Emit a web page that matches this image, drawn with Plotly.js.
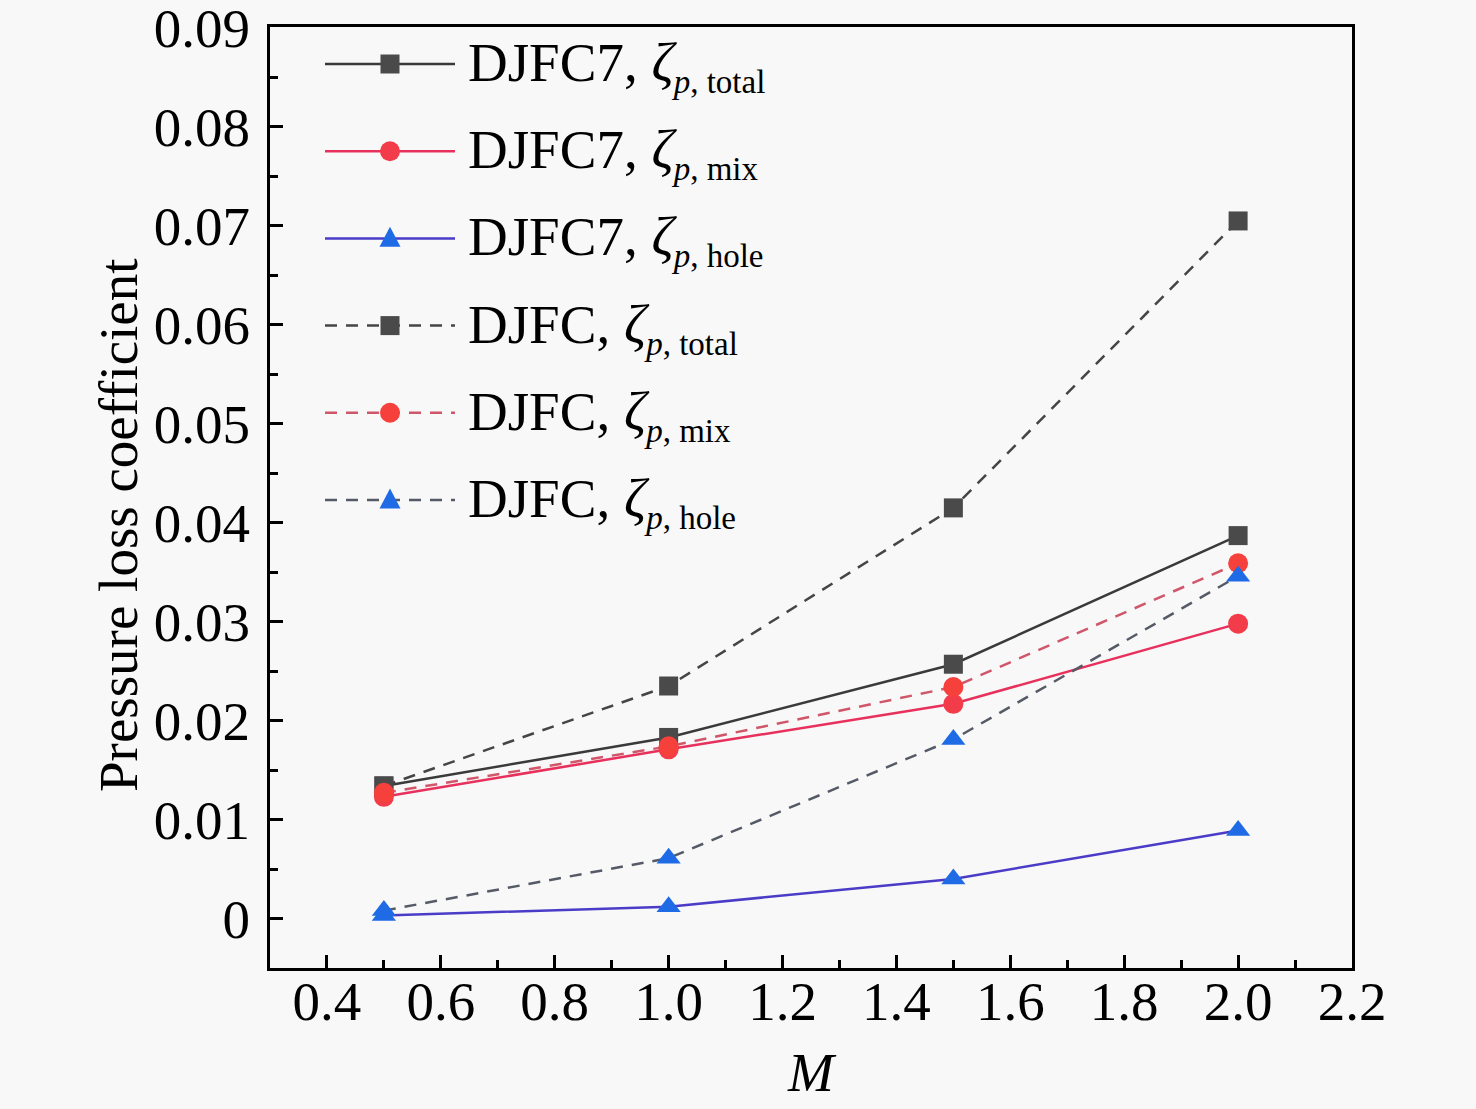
<!DOCTYPE html>
<html>
<head>
<meta charset="utf-8">
<script src="https://cdn.plot.ly/plotly-3.0.1.min.js"></script>
<style>
  html, body { margin: 0; padding: 0; background: #f8f8f8; }
  #plot { width: 1476px; height: 1109px; }
</style>
</head>
<body>
<div id="plot"></div>
<script>
const M = [0.5, 1.0, 1.5, 2.0];

// DJFC7 (solid)
const djfc7Total = [0.0134, 0.0183, 0.0257, 0.0387];
const djfc7Mix = [0.0123, 0.0171, 0.0217, 0.0298];
const djfc7Hole = [0.0003, 0.0012, 0.0040, 0.0089];

// DJFC (dashed)
const djfcTotal = [0.0134, 0.0235, 0.0415, 0.0705];
const djfcMix = [0.0127, 0.0174, 0.0234, 0.0359];
const djfcHole = [0.0008, 0.0061, 0.0181, 0.0346];

const yTicks = [0, 0.01, 0.02, 0.03, 0.04, 0.05, 0.06, 0.07, 0.08, 0.09];
const yTickText = ["0", "0.01", "0.02", "0.03", "0.04", "0.05", "0.06", "0.07", "0.08", "0.09"];

const serif = "Liberation Serif, Times New Roman, serif";
const dashes = "12px,9px";

// plot box in pixels, used to place the hand-made legend
const W = 1476, H = 1109;
const box = { l: 270, r: 124, t: 27, b: 141 };
const px = (v) => (v - box.l) / (W - box.l - box.r);
const py = (v) => 1 - (v - box.t) / (H - box.t - box.b);

function label(name, sub) {
	return `${name}, <i>ζ</i><sub><span style="font-size:33px"><i>p</i>, ${sub}</span></sub>`;
}

const series = [
	{ y: djfc7Total, name: label("DJFC7", "total"), line: "#3a3a3a", dash: "solid", symbol: "square", mc: "#4a4a4a", size: 19 },
	{ y: djfc7Mix, name: label("DJFC7", "mix"), line: "#e8305c", dash: "solid", symbol: "circle", mc: "#f23c4a", size: 20 },
	{ y: djfc7Hole, name: label("DJFC7", "hole"), line: "#4b3cc8", dash: "solid", symbol: "triangle-up", mc: "#1f6be6", size: 21 },
	{ y: djfcTotal, name: label("DJFC", "total"), line: "#454545", dash: dashes, symbol: "square", mc: "#4a4a4a", size: 19 },
	{ y: djfcMix, name: label("DJFC", "mix"), line: "#d0566a", dash: dashes, symbol: "circle", mc: "#f5403c", size: 20 },
	{ y: djfcHole, name: label("DJFC", "hole"), line: "#555a66", dash: dashes, symbol: "triangle-up", mc: "#1f6be6", size: 21 },
];

const plotData = series.map((s) => ({
	x: M,
	y: s.y,
	type: "scatter",
	mode: "lines+markers",
	name: s.name,
	showlegend: false,
	line: { color: s.line, width: 2.5, dash: s.dash },
	marker: { symbol: s.symbol, color: s.mc, size: s.size },
}));

// legend: long sample line, marker in the middle, text to the right
const shapes = [];
const annotations = [];
series.forEach((s, i) => {
	const yc = 64 + i * 87.2;
	shapes.push({
		type: "line", xref: "paper", yref: "paper",
		x0: px(325), x1: px(455), y0: py(yc), y1: py(yc),
		line: { color: s.line, width: 2.5, dash: s.dash },
	});
	const r = s.size / 2;
	if (s.symbol === "triangle-up") {
		shapes.push({
			type: "path", xref: "paper", yref: "paper",
			path: `M${px(390 - r)},${py(yc + r * 0.8)} L${px(390 + r)},${py(yc + r * 0.8)} L${px(390)},${py(yc - r * 1.1)} Z`,
			fillcolor: s.mc, line: { width: 0 },
		});
	} else {
		shapes.push({
			type: s.symbol === "square" ? "rect" : "circle", xref: "paper", yref: "paper",
			x0: px(390 - r), x1: px(390 + r), y0: py(yc + r), y1: py(yc - r),
			fillcolor: s.mc, line: { width: 0 },
		});
	}
	annotations.push({
		xref: "paper", yref: "paper",
		x: px(466), y: py(yc + 2),
		xanchor: "left", yanchor: "middle",
		text: s.name, showarrow: false,
		font: { family: serif, size: 55, color: "#000" },
	});
});

annotations.push({
	xref: "paper", yref: "paper",
	x: px(118), y: py(525),
	xanchor: "center", yanchor: "middle",
	textangle: -90,
	text: "Pressure loss coefficient", showarrow: false,
	font: { family: serif, size: 55, color: "#000" },
});

const axisCommon = {
	showline: true,
	linecolor: "#000",
	linewidth: 3,
	mirror: true,
	ticks: "inside",
	ticklen: 13,
	tickwidth: 3,
	tickcolor: "#000",
	showgrid: false,
	zeroline: false,
	ticklabeloverflow: "allow",
	tickfont: { family: serif, size: 55, color: "#000" },
};

const layout = {
	width: W,
	height: H,
	margin: box,
	paper_bgcolor: "#f8f8f8",
	plot_bgcolor: "#f8f8f8",
	font: { family: serif, color: "#000" },
	showlegend: false,
	shapes: shapes,
	annotations: annotations,
	xaxis: Object.assign({}, axisCommon, {
		range: [0.3, 2.2],
		tick0: 0.4,
		dtick: 0.2,
		tickformat: ".1f",
		ticklabelstandoff: -17,
		minor: { ticks: "inside", dtick: 0.1, tick0: 0.3, ticklen: 8, tickwidth: 3, tickcolor: "#000" },
		title: { text: "<i>M</i>", font: { family: serif, size: 55 }, standoff: 22 },
	}),
	yaxis: Object.assign({}, axisCommon, {
		range: [-0.005, 0.0901],
		tickmode: "array",
		tickvals: yTicks,
		ticktext: yTickText,
		ticklabelstandoff: 6,
		minor: { ticks: "inside", dtick: 0.005, tick0: 0, ticklen: 8, tickwidth: 3, tickcolor: "#000" },
	}),
};

Plotly.newPlot("plot", plotData, layout, { displayModeBar: false });
</script>
</body>
</html>
